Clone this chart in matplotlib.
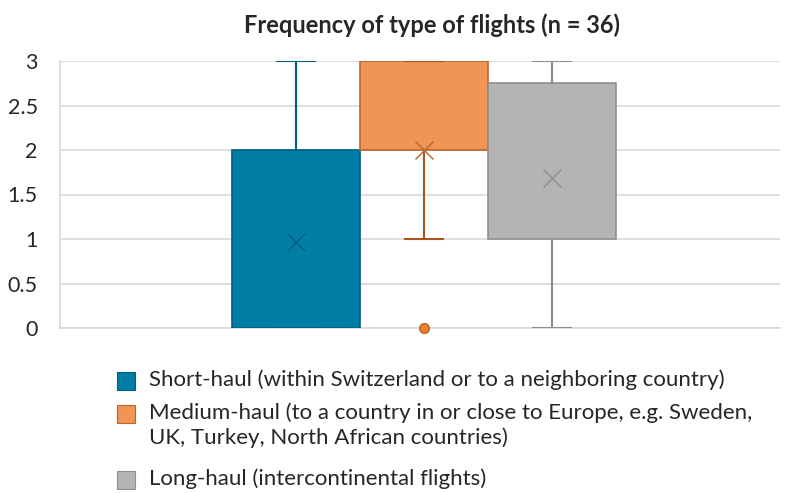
import matplotlib.pyplot as plt
from matplotlib.patches import Rectangle
from matplotlib.ticker import FuncFormatter

plt.rcParams['font.family'] = ['Lato', 'DejaVu Sans']

# data (box plot statistics)
labels = ["Short-haul (within Switzerland or to a neighboring country)",
          "Medium-haul (to a country in or close to Europe, e.g. Sweden,\nUK, Turkey, North African countries)",
          "Long-haul (intercontinental flights)"]
q1 = [0, 2, 1]
q3 = [2, 3, 2.75]
medians = [2, 3, 2]
whislo = [0, 1, 0]
whishi = [3, 3, 3]
means = [0.97, 2.0, 1.69]
fliers = [[], [0], []]

fills = ["#007EA6", "#F09553", "#B4B4B4"]
edges = ["#005F7E", "#B8652E", "#8E8E8E"]
whisk = ["#005F7E", "#A9541B", "#8E8E8E"]

fig = plt.figure(figsize=(7.96, 4.93), dpi=100)
ax = fig.add_axes([60 / 796, 1 - 328 / 493, 720 / 796, 267 / 493])

for i in range(3):
    stats = [dict(med=medians[i], q1=q1[i], q3=q3[i], whislo=whislo[i],
                  whishi=whishi[i], mean=means[i], fliers=fliers[i])]
    parts = ax.bxp(stats, positions=[i + 1], widths=1.0, capwidths=0.3,
                   patch_artist=True, showmeans=True,
                   boxprops=dict(facecolor=fills[i], edgecolor=edges[i], linewidth=1.2),
                   medianprops=dict(linewidth=0),
                   whiskerprops=dict(color=whisk[i], linewidth=1.5),
                   capprops=dict(color=whisk[i], linewidth=1.5),
                   meanprops=dict(marker='x', markersize=13, markeredgecolor=edges[i],
                                  markeredgewidth=1.0),
                   flierprops=dict(marker='o', markersize=7, markerfacecolor="#F07F2C",
                                   markeredgecolor=edges[i]),
                   zorder=3)
    for f in parts['fliers']:
        f.set_clip_on(False)

ax.set_xlim(-0.844, 4.781)
ax.set_ylim(0, 3)
ax.set_xticks([])
ax.set_yticks([0, 0.5, 1, 1.5, 2, 2.5, 3])
ax.yaxis.set_major_formatter(FuncFormatter(lambda v, p: f"{v:g}"))
ax.tick_params(axis='y', length=0, pad=16, labelsize=15.5, labelcolor="#262626")
ax.grid(axis='y', color="#D9D9D9", linewidth=1.2, zorder=0)
for s in ['top', 'right']:
    ax.spines[s].set_visible(False)
for s in ['left', 'bottom']:
    ax.spines[s].set_color("#D9D9D9")
    ax.spines[s].set_linewidth(1.2)

fig.text(432 / 796, 1 - 25 / 493, "Frequency of type of flights (n = 36)",
         ha='center', va='center', fontsize=17, fontweight='bold', color="#262626")

# legend drawn by hand so the square sits beside the first line of text
rows_y = [381, 414, 480]
for i in range(3):
    y = rows_y[i]
    fig.patches.append(Rectangle((117 / 796, 1 - (y + 9) / 493), 18 / 796, 18 / 493,
                                 transform=fig.transFigure, facecolor=fills[i],
                                 edgecolor=edges[i], linewidth=0.8))
    fig.text(149 / 796, 1 - (y - 12) / 493, labels[i], ha='left', va='top',
             fontsize=16, color="#262626", linespacing=1.3)

fig.savefig("out.png", dpi=100)
